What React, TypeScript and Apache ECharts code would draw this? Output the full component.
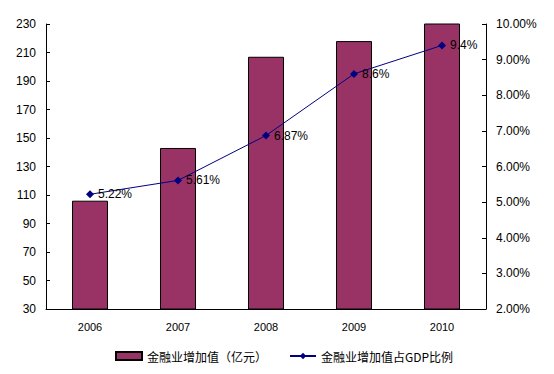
import React, { useEffect, useRef } from "react";
import * as echarts from "echarts";

const categories = ["2006", "2007", "2008", "2009", "2010"];
const barValues = [106, 143, 207, 218, 231];
const ratioValues = [5.22, 5.61, 6.87, 8.6, 9.4];
const ratioLabels = ["5.22%", "5.61%", "6.87%", "8.6%", "9.4%"];
const barName = "金融业增加值（亿元）";
const lineName = "金融业增加值占GDP比例";

export default function App() {
  const ref = useRef<HTMLDivElement>(null);
  useEffect(() => {
    if (!ref.current) return;
    const chart = echarts.init(ref.current, null, { renderer: "svg" });
    const font = "Liberation Sans, Arial, Noto Sans CJK SC, sans-serif";
    chart.setOption({
      animation: false,
      backgroundColor: "#ffffff",
      textStyle: { fontFamily: font },
      grid: { left: 46, right: 68, top: 24, bottom: 65 },
      legend: {
        top: 345,
        left: 110,
        itemWidth: 26,
        itemHeight: 8,
        itemGap: 22,
        textStyle: { fontSize: 12, color: "#000", fontFamily: "Noto Sans CJK SC, sans-serif" },
        data: [
          { name: barName, icon: "rect" },
          { name: lineName },
        ],
      },
      xAxis: {
        type: "category",
        data: categories,
        boundaryGap: true,
        axisLine: { lineStyle: { color: "#000", width: 1 } },
        axisTick: { inside: true, length: 4, lineStyle: { color: "#000" } },
        axisLabel: { color: "#000", fontSize: 11, margin: 12 },
      },
      yAxis: [
        {
          type: "value",
          min: 30,
          max: 230,
          interval: 20,
          axisLine: { show: true, lineStyle: { color: "#000", width: 1 } },
          axisTick: { show: true, inside: true, length: 4, lineStyle: { color: "#000" } },
          axisLabel: { color: "#000", fontSize: 12, margin: 10 },
          splitLine: { show: false },
        },
        {
          type: "value",
          min: 2,
          max: 10,
          interval: 1,
          position: "right",
          axisLine: { show: true, lineStyle: { color: "#000", width: 1 } },
          axisTick: { show: true, inside: true, length: 4, lineStyle: { color: "#000" } },
          axisLabel: {
            color: "#000",
            fontSize: 12,
            margin: 10,
            formatter: (v: number) => v.toFixed(2) + "%",
          },
          splitLine: { show: false },
        },
      ],
      series: [
        {
          name: barName,
          type: "bar",
          data: barValues,
          barWidth: 36,
          itemStyle: { color: "#993366", borderColor: "#000", borderWidth: 1 },
        },
        {
          name: lineName,
          type: "line",
          yAxisIndex: 1,
          data: ratioValues,
          symbol: "diamond",
          symbolSize: 8,
          lineStyle: { color: "#000080", width: 1 },
          itemStyle: { color: "#000080" },
          label: {
            show: true,
            position: "right",
            distance: 4,
            color: "#000",
            fontSize: 12,
            formatter: (p: any) => ratioLabels[p.dataIndex],
          },
        },
      ],
    });
    return () => chart.dispose();
  }, []);
  return <div ref={ref} style={{ width: 554, height: 374, position: "absolute", left: 0, top: 0 }} />;
}
